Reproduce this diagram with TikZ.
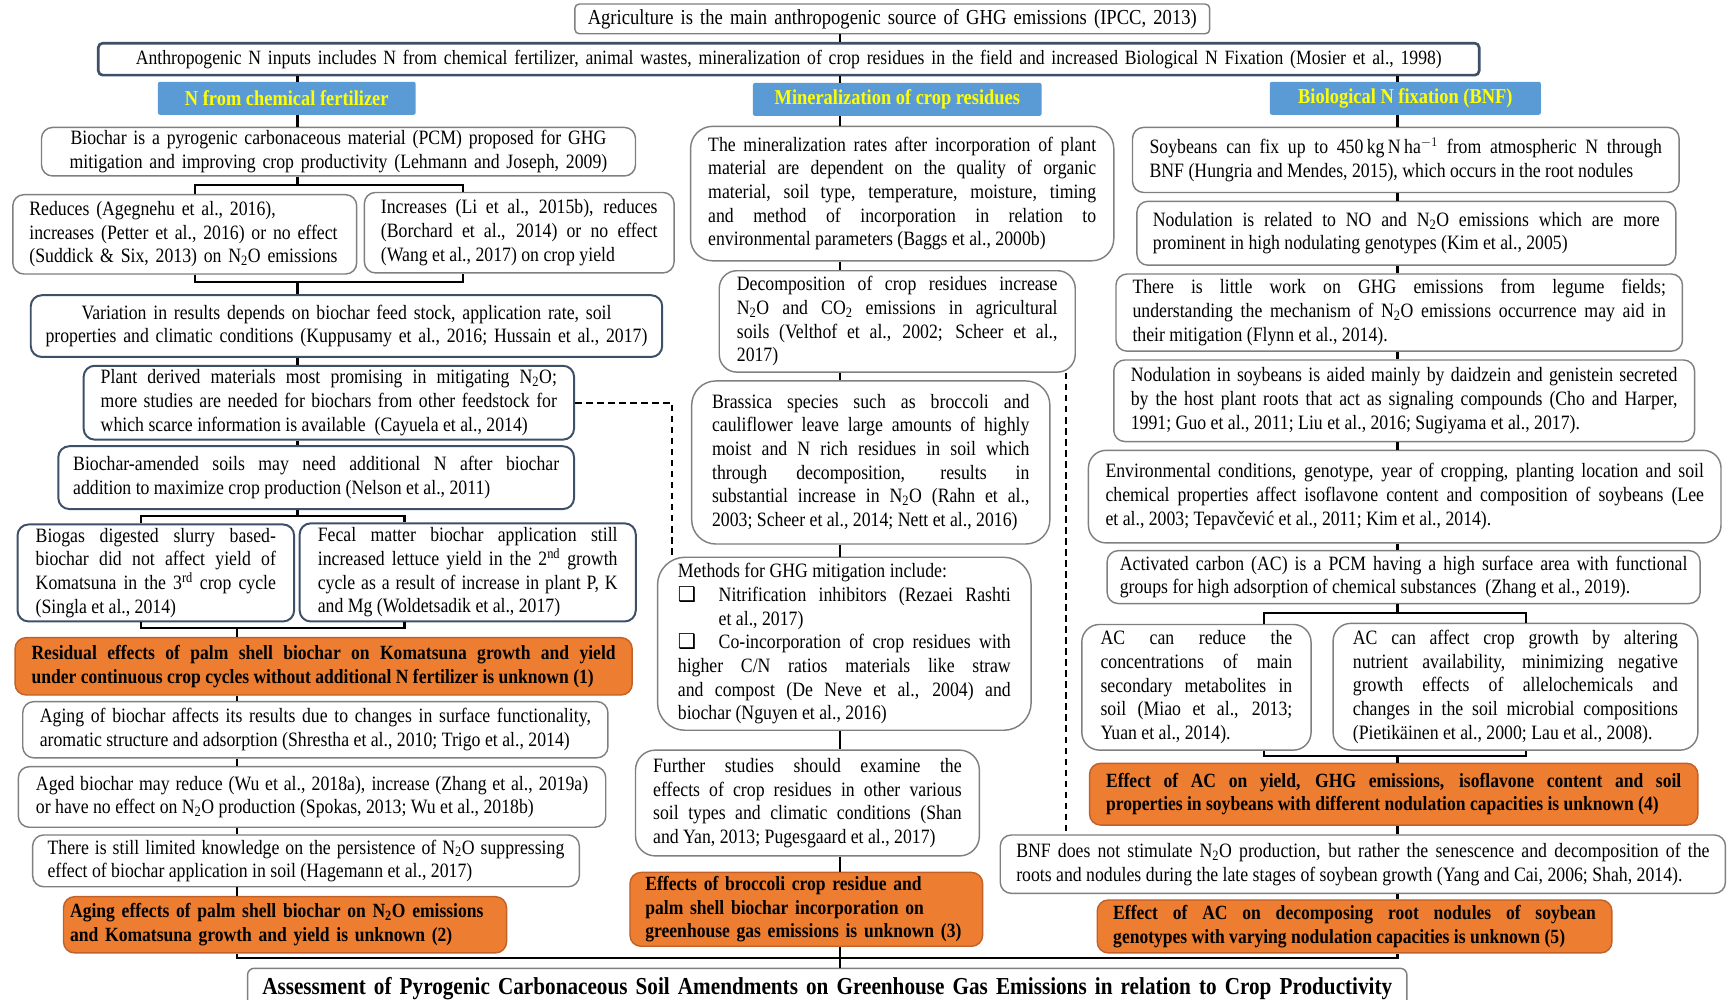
\documentclass[tikz,border=0pt]{standalone}
\usepackage{fontspec}
\setmainfont{Liberation Serif}[FakeStretch=0.87]
\newfontfamily\symfont{DejaVu Sans}
\usepackage{tikz}

\definecolor{boxgray}{HTML}{7F7F7F}
\definecolor{boxblue}{HTML}{3E5068}
\definecolor{hdrblue}{HTML}{5B9BD5}
\definecolor{hdrtext}{HTML}{FFFF00}
\definecolor{orangefill}{HTML}{ED7D31}
\definecolor{orangeedge}{HTML}{C0612A}

\setlength{\parindent}{0pt}
\hyphenpenalty=10000
\newcommand{\bodyfont}{\fontsize{18.5}{21.5}\selectfont}
\newcommand{\boldfont}{\fontsize{18.3}{21.5}\selectfont\bfseries}
\newcommand{\headfont}{\fontsize{19.2}{21}\selectfont\bfseries}
\newcommand{\topfont}{\fontsize{19.4}{21}\selectfont}
\newcommand{\anthrofont}{\fontsize{18.4}{21}\selectfont}
\newcommand{\titlefont}{\fontsize{22.1}{24}\selectfont\bfseries}
\newcommand{\nto}{N\textsubscript{2}O}

\tikzset{%
	gbox/.style     = {draw=boxgray, line width=1.3pt, rounded corners=10pt, fill=white,
		anchor=north west, inner sep=0pt, align=justify, font=\bodyfont},
	bbox/.style     = {gbox, draw=boxblue, line width=1.8pt}, % blue edged
	obox/.style     = {gbox, draw=orangeedge, fill=orangefill, font=\boldfont}, % gaps
	hbox/.style     = {anchor=north west, fill=hdrblue, text=hdrtext, font=\headfont,
		inner sep=0pt, rounded corners=2pt},
	link/.style     = {draw, line width=2pt},
	dashline/.style = {draw, line width=1.6pt, dash pattern=on 6pt off 4pt}
}

\begin{document}
\begin{tikzpicture}[x=1pt, y=-1pt]
	\useasboundingbox (0,0) rectangle (1568,907);
	\clip (0,0) rectangle (1568,907);
	\coordinate (sL) at (270,0);
	\coordinate (sL2) at (215,0);
	\coordinate (sM) at (762,0);
	\coordinate (sR) at (1268,0);

	% top
	\node[gbox, font=\topfont, align=center, rounded corners=4pt, minimum width=576pt, minimum height=27pt, text width=560pt] (top) at (521,3) {Agriculture is the main anthropogenic source of GHG emissions (IPCC, 2013)};
	\node[bbox, font=\anthrofont, line width=2.4pt, rounded corners=4pt, align=center, minimum width=1253pt, minimum height=29pt, text width=1230pt] (anthro) at (88,38) {Anthropogenic N inputs includes N from chemical fertilizer, animal wastes, mineralization of crop residues in the field and increased Biological N Fixation (Mosier et al., 1998)};
	\node[hbox, minimum width=234pt, minimum height=30pt] (hdrA) at (143,74) {N from chemical fertilizer};
	\node[hbox, minimum width=262pt, minimum height=30pt] (hdrB) at (683,75) {Mineralization of crop residues};
	\node[hbox, minimum width=246pt, minimum height=30pt] (hdrC) at (1152,74) {Biological N fixation (BNF)};

	% left column
	\node[gbox, align=center, minimum width=539pt, minimum height=44pt, text width=515pt] (pcm) at (37,115) {Biochar is a pyrogenic carbonaceous material (PCM) proposed for GHG\\ mitigation and improving crop productivity (Lehmann and Joseph, 2009)};
	\node[gbox, align=left, minimum width=312pt, minimum height=72pt, text width=282pt] (reduces) at (11,176) {Reduces (Agegnehu et al., 2016),\\ increases (Petter et al., 2016) or no effect\\ (Suddick \& Six, 2013) on \nto{} emissions};
	\node[gbox, minimum width=281pt, minimum height=73pt, text width=251pt] (increases) at (330,174) {Increases (Li et al., 2015b), reduces\linebreak (Borchard et al., 2014) or no effect\linebreak (Wang et al., 2017) on crop yield};
	\node[bbox, align=center, minimum width=573pt, minimum height=56pt, text width=551pt] (variation) at (27,267) {Variation in results depends on biochar feed stock, application rate, soil\\ properties and climatic conditions (Kuppusamy et al., 2016; Hussain et al., 2017)};
	\node[bbox, minimum width=445pt, minimum height=67pt, text width=414pt] (plant) at (75,331) {Plant derived materials most promising in mitigating \nto;\linebreak more studies are needed for biochars from other feedstock for\linebreak which scarce information is available \ (Cayuela et al., 2014)};
	\node[bbox, minimum width=468pt, minimum height=57pt, text width=441pt] (amended) at (52,404) {Biochar-amended soils may need additional N after biochar\linebreak addition to maximize crop production (Nelson et al., 2011)};
	\node[bbox, minimum width=251pt, minimum height=88pt, text width=218pt] (biogas) at (15,475) {Biogas digested slurry based-\linebreak biochar did not affect yield of\linebreak Komatsuna in the 3\textsuperscript{rd} crop cycle\linebreak (Singla et al., 2014)};
	\node[bbox, minimum width=305pt, minimum height=89pt, text width=272pt] (fecal) at (271,474) {Fecal matter biochar application still\linebreak increased lettuce yield in the 2\textsuperscript{nd} growth\linebreak cycle as a result of increase in plant P, K\linebreak and Mg (Woldetsadik et al., 2017)};
	\node[obox, minimum width=560pt, minimum height=52pt, text width=530pt] (residual) at (13,578) {Residual effects of palm shell biochar on Komatsuna growth and yield\linebreak under continuous crop cycles without additional N fertilizer is unknown (1)};
	\node[gbox, minimum width=531pt, minimum height=51pt, text width=500pt] (agingof) at (20,636) {Aging of biochar affects its results due to changes in surface functionality,\linebreak aromatic structure and adsorption (Shrestha et al., 2010; Trigo et al., 2014)};
	\node[gbox, minimum width=533pt, minimum height=55pt, text width=501pt] (aged) at (16,695) {Aged biochar may reduce (Wu et al., 2018a), increase (Zhang et al., 2019a)\linebreak or have no effect on \nto{} production (Spokas, 2013; Wu et al., 2018b)};
	\node[gbox, minimum width=496pt, minimum height=47pt, text width=469pt] (limited) at (29,757) {There is still limited knowledge on the persistence of \nto{} suppressing\linebreak effect of biochar application in soil (Hagemann et al., 2017)};
	\node[obox, align=left, minimum width=402pt, minimum height=51pt, text width=390pt] (aging2) at (57,813) {Aging effects of palm shell biochar on \nto{} emissions\\ and Komatsuna growth and yield is unknown (2)};

	% middle column
	\node[gbox, rounded corners=20pt, minimum width=384pt, minimum height=122pt, text width=352pt] (minrates) at (626,114) {The mineralization rates after incorporation of plant\linebreak material are dependent on the quality of organic\linebreak material, soil type, temperature, moisture, timing\linebreak and method of incorporation in relation to\linebreak environmental parameters (Baggs et al., 2000b)};
	\node[gbox, rounded corners=16pt, minimum width=323pt, minimum height=92pt, text width=291pt] (decomp) at (652,245) {Decomposition of crop residues increase\linebreak \nto{} and CO\textsubscript{2} emissions in agricultural\linebreak soils (Velthof et al., 2002; Scheer et al.,\linebreak 2017)};
	\node[gbox, rounded corners=22pt, minimum width=325pt, minimum height=148pt, text width=288pt] (brassica) at (627,345) {Brassica species such as broccoli and\linebreak cauliflower leave large amounts of highly\linebreak moist and N rich residues in soil which\linebreak through decomposition, results in\linebreak substantial increase in \nto{} (Rahn et al.,\linebreak 2003; Scheer et al., 2014; Nett et al., 2016)};
	\node[gbox, rounded corners=25pt, minimum width=339pt, minimum height=157pt, text width=302pt] (methods) at (596,505) {Methods for GHG mitigation include:\par
		\hangindent=37pt\hangafter=1\noindent\makebox[37pt][l]{\symfont ❑}Nitrification inhibitors (Rezaei Rashti\linebreak et al., 2017)\par
		\hangindent=37pt\hangafter=1\noindent\makebox[37pt][l]{\symfont ❑}Co-incorporation of crop residues with\linebreak higher C/N ratios materials like straw\linebreak and compost (De Neve et al., 2004) and\linebreak biochar (Nguyen et al., 2016)};
	\node[gbox, rounded corners=18pt, minimum width=312pt, minimum height=96pt, text width=280pt] (further) at (576,680) {Further studies should examine the\linebreak effects of crop residues in other various\linebreak soil types and climatic conditions (Shan\linebreak and Yan, 2013; Pugesgaard et al., 2017)};
	\node[obox, align=left, minimum width=320pt, minimum height=67pt, text width=292pt] (effects3) at (571,791) {Effects of broccoli crop residue and\\ palm shell biochar incorporation on\\ greenhouse gas emissions is unknown (3)};

	% right column
	\node[gbox, minimum width=496pt, minimum height=59pt, text width=465pt] (soy) at (1027,115) {Soybeans can fix up to 450\,kg\,N\,ha$^{-1}$ from atmospheric N through\linebreak BNF (Hungria and Mendes, 2015), which occurs in the root nodules};
	\node[gbox, minimum width=489pt, minimum height=58pt, text width=460pt] (nodrel) at (1031,182) {Nodulation is related to NO and \nto{} emissions which are more\linebreak prominent in high nodulating genotypes (Kim et al., 2005)};
	\node[gbox, minimum width=514pt, minimum height=70pt, text width=484pt] (little) at (1012,248) {There is little work on GHG emissions from legume fields;\linebreak understanding the mechanism of \nto{} emissions occurrence may aid in\linebreak their mitigation (Flynn et al., 2014).};
	\node[gbox, minimum width=527pt, minimum height=74pt, text width=496pt] (daid) at (1010,326) {Nodulation in soybeans is aided mainly by daidzein and genistein secreted\linebreak by the host plant roots that act as signaling compounds (Cho and Harper,\linebreak 1991; Guo et al., 2011; Liu et al., 2016; Sugiyama et al., 2017).};
	\node[gbox, rounded corners=16pt, minimum width=574pt, minimum height=84pt, text width=543pt] (env) at (987,408) {Environmental conditions, genotype, year of cropping, planting location and soil\linebreak chemical properties affect isoflavone content and composition of soybeans (Lee\linebreak et al., 2003; Tepavčević et al., 2011; Kim et al., 2014).};
	\node[gbox, minimum width=538pt, minimum height=48pt, text width=515pt] (acpcm) at (1004,499) {Activated carbon (AC) is a PCM having a high surface area with functional\linebreak groups for high adsorption of chemical substances \ (Zhang et al., 2019).};
	\node[gbox, rounded corners=16pt, minimum width=208pt, minimum height=114pt, text width=174pt] (acred) at (981,566) {AC can reduce the\linebreak concentrations of main\linebreak secondary metabolites in\linebreak soil (Miao et al., 2013;\linebreak Yuan et al., 2014).};
	\node[gbox, rounded corners=16pt, minimum width=331pt, minimum height=115pt, text width=295pt] (acaff) at (1209,565) {AC can affect crop growth by altering\linebreak nutrient availability, minimizing negative\linebreak growth effects of allelochemicals and\linebreak changes in the soil microbial compositions\linebreak (Pietikäinen et al., 2000; Lau et al., 2008).};
	\node[obox, minimum width=552pt, minimum height=56pt, text width=522pt] (effect4) at (988,692) {Effect of AC on yield, GHG emissions, isoflavone content and soil\linebreak properties in soybeans with different nodulation capacities is unknown (4)};
	\node[gbox, minimum width=658pt, minimum height=53pt, text width=629pt] (bnf) at (907,757) {BNF does not stimulate \nto{} production, but rather the senescence and decomposition of the\linebreak roots and nodules during the late stages of soybean growth (Yang and Cai, 2006; Shah, 2014).};
	\node[obox, minimum width=467pt, minimum height=48pt, text width=438pt] (effect5) at (995,816) {Effect of AC on decomposing root nodules of soybean\linebreak genotypes with varying nodulation capacities is unknown (5)};

	% bottom
	\node[gbox, font=\titlefont, align=center, rounded corners=6pt, minimum width=1052pt, minimum height=36pt, text width=1030pt] (final) at (224,878) {Assessment of Pyrogenic Carbonaceous Soil Amendments on Greenhouse Gas Emissions in relation to Crop Productivity};

	% connectors
	\coordinate (brA1) at (177,168);
	\coordinate (brA2) at (420,168);
	\coordinate (brB1) at (177,256);
	\coordinate (brB2) at (420,256);
	\coordinate (brC1) at (128,468);
	\coordinate (brC2) at (367,468);
	\coordinate (brD1) at (128,570);
	\coordinate (brD2) at (367,570);
	\coordinate (brE1) at (1147,556);
	\coordinate (brE2) at (1385,556);
	\coordinate (brF1) at (1147,686);
	\coordinate (brF2) at (1385,686);
	\coordinate (bot1) at (215,869);
	\coordinate (bot2) at (1268,869);
	\coordinate (dA) at (610,0);
	\coordinate (dB) at (967,0);

	\draw[link] (top.south -| sM) -- (anthro.north -| sM);
	\draw[link] (anthro.south -| sL) -- (hdrA.north -| sL);
	\draw[link] (anthro.south -| sM) -- (hdrB.north -| sM);
	\draw[link] (anthro.south -| sR) -- (hdrC.north -| sR);

	\draw[link] (hdrA.south -| sL) -- (pcm.north -| sL);
	\draw[link] (pcm.south -| sL) -- (brA1 -| sL);
	\draw[link] (reduces.north -| brA1) -- (brA1) -- (brA2) -- (increases.north -| brA2);
	\draw[link] (reduces.south -| brB1) -- (brB1) -- (brB2) -- (increases.south -| brB2);
	\draw[link] (brB1 -| sL) -- (variation.north -| sL);
	\draw[link] (variation.south -| sL) -- (plant.north -| sL);
	\draw[link] (plant.south -| sL) -- (amended.north -| sL);
	\draw[link] (amended.south -| sL) -- (brC1 -| sL);
	\draw[link] (biogas.north -| brC1) -- (brC1) -- (brC2) -- (fecal.north -| brC2);
	\draw[link] (biogas.south -| brD1) -- (brD1) -- (brD2) -- (fecal.south -| brD2);
	\draw[link] (brD1 -| sL2) -- (residual.north -| sL2);
	\draw[link] (residual.south -| sL2) -- (agingof.north -| sL2);
	\draw[link] (agingof.south -| sL2) -- (aged.north -| sL2);
	\draw[link] (aged.south -| sL2) -- (limited.north -| sL2);
	\draw[link] (limited.south -| sL2) -- (aging2.north -| sL2);
	\draw[link] (aging2.south -| sL2) -- (bot1) -- (bot2) -- (effect5.south -| bot2);

	\draw[link] (hdrB.south -| sM) -- (minrates.north -| sM);
	\draw[link] (minrates.south -| sM) -- (decomp.north -| sM);
	\draw[link] (decomp.south -| sM) -- (brassica.north -| sM);
	\draw[link] (brassica.south -| sM) -- (methods.north -| sM);
	\draw[link] (methods.south -| sM) -- (further.north -| sM);
	\draw[link] (further.south -| sM) -- (effects3.north -| sM);
	\draw[link] (effects3.south -| sM) -- (final.north -| sM);

	\draw[link] (hdrC.south -| sR) -- (soy.north -| sR);
	\draw[link] (soy.south -| sR) -- (nodrel.north -| sR);
	\draw[link] (nodrel.south -| sR) -- (little.north -| sR);
	\draw[link] (little.south -| sR) -- (daid.north -| sR);
	\draw[link] (daid.south -| sR) -- (env.north -| sR);
	\draw[link] (env.south -| sR) -- (acpcm.north -| sR);
	\draw[link] (acpcm.south -| sR) -- (brE1 -| sR);
	\draw[link] (acred.north -| brE1) -- (brE1) -- (brE2) -- (acaff.north -| brE2);
	\draw[link] (acred.south -| brF1) -- (brF1) -- (brF2) -- (acaff.south -| brF2);
	\draw[link] (brF1 -| sR) -- (effect4.north -| sR);
	\draw[link] (effect4.south -| sR) -- (bnf.north -| sR);
	\draw[link] (bnf.south -| sR) -- (effect5.north -| sR);

	\draw[dashline] (plant.east) -- (plant.east -| dA) -- (methods.north -| dA);
	\draw[dashline] (decomp.south -| dB) -- (bnf.north -| dB);
\end{tikzpicture}
\end{document}
